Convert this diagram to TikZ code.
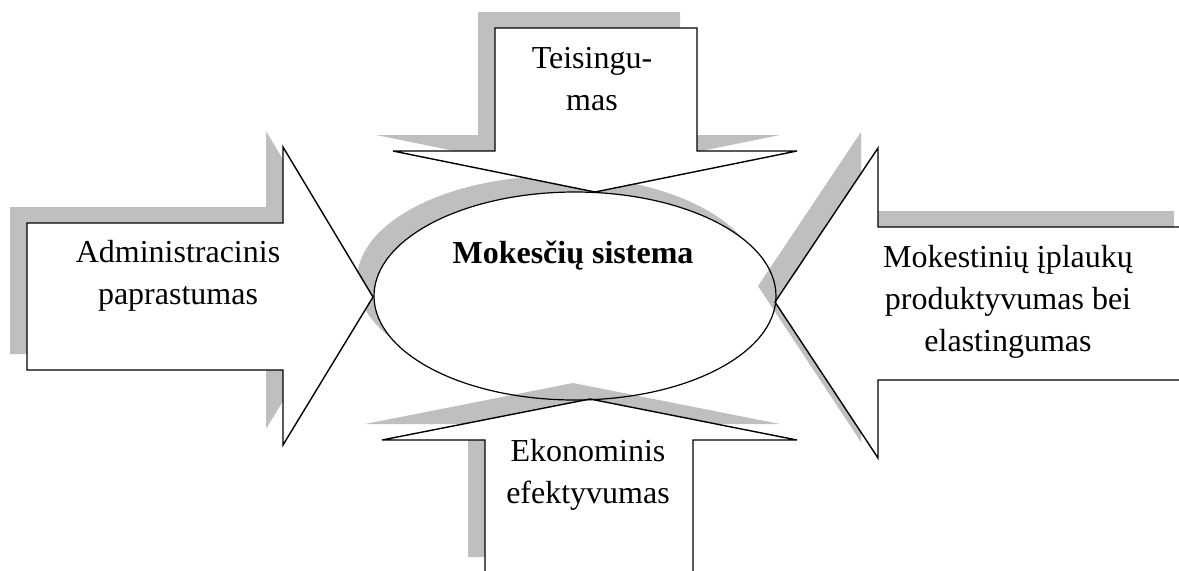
\documentclass[tikz,border=0pt]{standalone}
\usepackage{fontspec}
\setmainfont{Liberation Serif}
\usetikzlibrary{shadows}

\begin{document}
\begin{tikzpicture}[x=0.5pt, y=-0.5pt,
    dshadow/.style={drop shadow={shadow xshift=-8.5pt, shadow yshift=8pt, fill=black!25, opacity=1}},
    arrowbody/.style={draw=black, fill=white, line width=0.7pt, dshadow},
    nodes={font=\fontsize{16}{21}\selectfont, align=center}]
  \useasboundingbox (0,0) rectangle (1179,570);
  \clip (0,0) rectangle (1179,570);
  \coordinate (sys) at (575,296);
  % ellipse with its shadow, outline comes later
  \fill[white, dshadow] (sys) ellipse [x radius=201, y radius=104];
  % the four arrows
  \draw[arrowbody] (495,28) -- (697,28) -- (697,151) -- (797,151) -- (595,192) -- (393,151) -- (495,151) -- cycle;
  \draw[arrowbody] (27,223) -- (283,223) -- (283,147) -- (373,297) -- (283,445) -- (283,370) -- (27,370) -- cycle;
  \draw[arrowbody] (1191,227) -- (878,227) -- (878,148) -- (775,302) -- (878,458) -- (878,380) -- (1191,380) -- cycle;
  \draw[arrowbody] (485,573) -- (485,440) -- (382,440) -- (590,399) -- (797,440) -- (693,440) -- (693,573) -- cycle;
  \draw[line width=0.6pt] (sys) ellipse [x radius=201, y radius=104];
  % labels
  \node[font=\fontsize{16}{21}\selectfont\bfseries, anchor=base] (systxt) at (573,263) {Mokesčių sistema};
  \node (teis) at (592,79) {Teisingu-\\mas};
  \node (admin) at (178,276) {Administracinis\\paprastumas};
  \node (prod) at (1008,302) {Mokestinių įplaukų\\produktyvumas bei\\elastingumas};
  \node (ekon) at (588,475) {Ekonominis\\efektyvumas};
\end{tikzpicture}
\end{document}
